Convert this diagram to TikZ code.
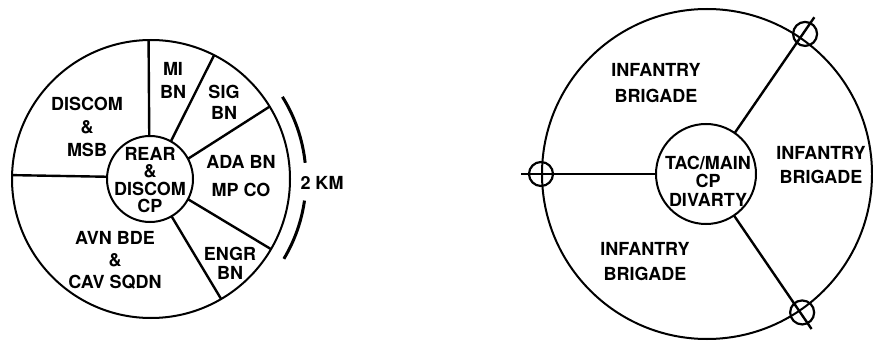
\documentclass[tikz,border=0pt]{standalone}
\usepackage{fontspec}
\setmainfont{TeX Gyre Heros}
\usepackage{tikz}

\tikzset{
  ring/.style={line width=2pt},
  spoke/.style={line width=2.4pt},
  hub/.style={circle, draw, line width=2pt, inner sep=0pt, outer sep=0pt},
  cpmark/.style={circle, draw, line width=2.2pt, minimum size=24pt, inner sep=0pt},
  unit/.style={align=center, font=\bfseries\fontsize{18}{23}\selectfont, inner sep=0pt}
}

\begin{document}
\begin{tikzpicture}[x=1pt, y=1pt]
        \useasboundingbox (0,0) rectangle (873,343);

        % Left side (division rear area)
        \coordinate (c1) at (151,164);
        \draw[ring] (c1) circle (139);
        \node[hub, minimum size=86pt] (rear) at (150,164) {};

        % Points on the outer rim
        \coordinate (r1) at ([shift={(c1)}]91:139);
        \coordinate (r2) at ([shift={(c1)}]63:139);
        \coordinate (r3) at ([shift={(c1)}]31.4:139);
        \coordinate (r4) at ([shift={(c1)}]-30.3:139);
        \coordinate (r5) at ([shift={(c1)}]-59.7:139);
        \coordinate (r6) at ([shift={(c1)}]178.4:139);

        % Sector lines
        \draw[spoke] (rear.91) -- (r1);
        \draw[spoke] (rear.61) -- (r2);
        \draw[spoke] (rear.28) -- (r3);
        \draw[spoke] (rear.-28) -- (r4);
        \draw[spoke] (rear.-60) -- (r5);
        \draw[spoke] (rear.177) -- (r6);

        % Sector labels
        \node[unit, font=\bfseries\fontsize{18}{17.5}\selectfont] (reartext) at (150,163) {REAR\\\&\\DISCOM\\CP};
        \node[unit] (mi) at (173,263) {MI\\BN};
        \node[unit, font=\bfseries\fontsize{18}{21}\selectfont] (sig) at (224,241) {SIG\\BN};
        \node[unit] (discom) at (87,216) {DISCOM\\\&\\MSB};
        \node[unit, font=\bfseries\fontsize{18}{28}\selectfont] (ada) at (241,167) {ADA BN\\MP CO};
        \node[unit, font=\bfseries\fontsize{18}{19}\selectfont] (engr) at (230,80) {ENGR\\BN};
        \node[unit, font=\bfseries\fontsize{18}{22}\selectfont] (avn) at (115,83) {AVN BDE\\\&\\CAV SQDN};

        % Width bracket
        \node[unit] (km) at (322,160) {2 KM};
        \draw[line width=3pt] ([shift={(c1)}]32:155) arc[start angle=32, end angle=6, radius=155];
        \draw[line width=3pt] ([shift={(c1)}]-8:155) arc[start angle=-8, end angle=-31, radius=155];

        % Right side (DIVARTY)
        \coordinate (c2) at (707,169);
        \draw[ring] (c2) circle (165);
        \node[hub, minimum size=100pt] (tac) at (706,169) {};
        \node[unit, font=\bfseries\fontsize{18}{18.5}\selectfont] (tactext) at (708,162) {TAC/MAIN\\CP\\DIVARTY};

        % Spoke ends and CP marks
        \coordinate (e1) at ([shift={(c2)}]180:186);
        \coordinate (e2) at ([shift={(c2)}]55.6:190);
        \coordinate (e3) at ([shift={(c2)}]-56:187);
        \node[cpmark] (x1) at ([shift={(c2)}]180:166) {};
        \node[cpmark] (x2) at ([shift={(c2)}]55:171) {};
        \node[cpmark] (x3) at ([shift={(c2)}]-55.5:168) {};

        \draw[spoke] (tac.180) -- (e1);
        \draw[spoke] (tac.55.6) -- (e2);
        \draw[spoke] (tac.-56) -- (e3);

        % Brigade labels
        \node[unit, font=\bfseries\fontsize{18}{26}\selectfont] (bde1) at (656,260) {INFANTRY\\BRIGADE};
        \node[unit, font=\bfseries\fontsize{18}{24}\selectfont] (bde2) at (821,178) {INFANTRY\\BRIGADE};
        \node[unit, font=\bfseries\fontsize{18}{25}\selectfont] (bde3) at (645,81) {INFANTRY\\BRIGADE};

    \end{tikzpicture}
\end{document}
